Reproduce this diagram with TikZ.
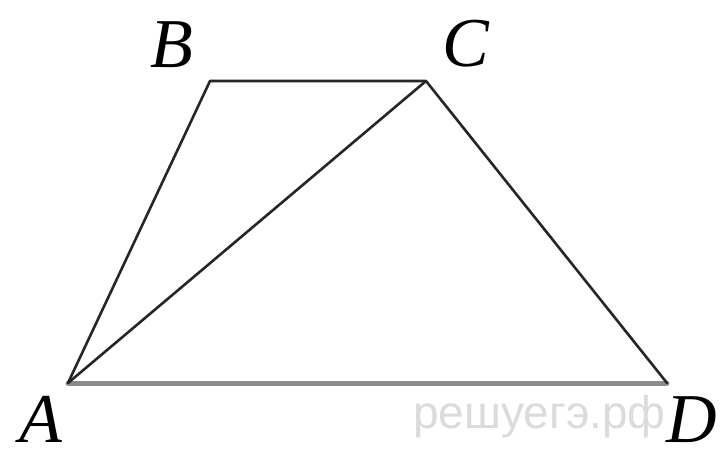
\documentclass[tikz,border=0pt]{standalone}
\usepackage{fontspec}
\setmainfont{Liberation Serif}
\newfontfamily\wmfont{Liberation Sans}
\begin{document}
\begin{tikzpicture}[x=1pt,y=-1pt,
  edge/.style={line width=2.6pt,line join=round,line cap=round,black!85},
  base/.style={line width=5pt,line cap=round,black!45},
  vlabel/.style={inner sep=0pt,font=\fontsize{70}{70}\selectfont\itshape},
  wm/.style={inner sep=0pt,anchor=base west,text=black!14,font=\wmfont\fontsize{46}{46}\selectfont}]
\useasboundingbox (0,0) rectangle (723,458);
\coordinate (A) at (68,383);
\coordinate (B) at (210,81);
\coordinate (C) at (426,81);
\coordinate (D) at (667,383);
\node[wm] (w) at (413,428) {решуегэ.рф};
\draw[base] (A) -- (D);
\draw[edge] (A) -- (B) -- (C) -- (D);
\draw[edge] (A) -- (C);
\node[vlabel] (la) at (41,419) {A};
\node[vlabel] (lb) at (172,45) {B};
\node[vlabel] (lc) at (466,44) {C};
\node[vlabel] (ld) at (692,420) {D};
\end{tikzpicture}
\end{document}
